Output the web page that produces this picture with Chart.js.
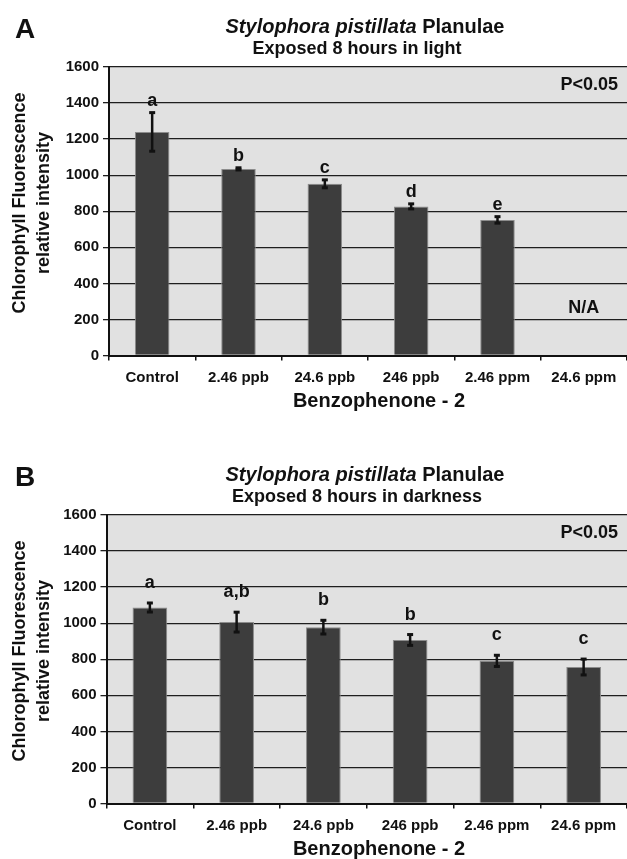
<!DOCTYPE html>
<html>
<head>
<meta charset="utf-8">
<script src="https://cdn.jsdelivr.net/npm/chart.js@4.4.1/dist/chart.umd.min.js"></script>
<style>
    html, body { margin: 0; padding: 0; background: #fff; overflow: hidden; }
    .panel { position: absolute; left: 0; width: 627px; height: 448px; }
    #panelA { top: 0; }
    #panelB { top: 448px; }
</style>
</head>
<body>
<div class="panel" id="panelA"><canvas id="chartA"></canvas></div>
<div class="panel" id="panelB"><canvas id="chartB"></canvas></div>
<script>
// Data
const categories = ['Control', '2.46 ppb', '24.6 ppb', '246 ppb', '2.46 ppm', '24.6 ppm'];
const yTicks = [0, 200, 400, 600, 800, 1000, 1200, 1400, 1600];

const lightMeans = [1240, 1035, 952, 827, 752, null];
const lightErrors = [107, 6, 22, 14, 18, null];
const lightLetters = ['a', 'b', 'c', 'd', 'e', ''];

const darkMeans = [1087, 1006, 978, 907, 791, 757];
const darkErrors = [25, 55, 38, 30, 31, 44];
const darkLetters = ['a', 'a,b', 'b', 'b', 'c', 'c'];

const FONT = '"Liberation Sans", Arial, Helvetica, sans-serif';

// background, error bars, letters and all the free text
const panelDecor = {
    id: 'panelDecor',
    beforeDraw(chart) {
        const a = chart.chartArea;
        const ctx = chart.ctx;
        ctx.save();
        ctx.fillStyle = '#e1e1e1';
        ctx.fillRect(a.left, a.top, a.right - a.left, a.bottom - a.top);
        ctx.restore();
    },
    afterDatasetsDraw(chart, args, opts) {
        const ctx = chart.ctx;
        const y = chart.scales.y;
        const meta = chart.getDatasetMeta(0);
        ctx.save();
        ctx.fillStyle = '#111';
        ctx.strokeStyle = '#111';
        meta.data.forEach((bar, i) => {
            const m = opts.means[i];
            const e = opts.errors[i];
            if (m == null) return;
            const yHi = y.getPixelForValue(m + e);
            const yLo = y.getPixelForValue(m - e);
            ctx.lineWidth = 2.5;
            ctx.beginPath();
            ctx.moveTo(bar.x, yHi);
            ctx.lineTo(bar.x, yLo);
            ctx.stroke();
            ctx.fillRect(bar.x - 3, yHi - 1.5, 6, 3);
            ctx.fillRect(bar.x - 3, yLo - 1.5, 6, 3);

            ctx.font = 'bold 18px ' + FONT;
            ctx.textAlign = 'center';
            ctx.textBaseline = 'middle';
            ctx.fillText(opts.letters[i], bar.x, yHi - opts.letterGap);
        });
        ctx.restore();
    },
    afterDraw(chart, args, opts) {
        const ctx = chart.ctx;
        const a = chart.chartArea;
        ctx.save();
        ctx.fillStyle = '#111';

        // panel letter
        ctx.font = 'bold 28px ' + FONT;
        ctx.textAlign = 'left';
        ctx.textBaseline = 'alphabetic';
        ctx.fillText(opts.panel, 15, 38);

        // title, species name in italics
        const part1 = 'Stylophora pistillata';
        const part2 = ' Planulae';
        ctx.font = 'italic bold 20px ' + FONT;
        const w1 = ctx.measureText(part1).width;
        ctx.font = 'bold 20px ' + FONT;
        const w2 = ctx.measureText(part2).width;
        let tx = 365 - (w1 + w2) / 2;
        ctx.font = 'italic bold 20px ' + FONT;
        ctx.fillText(part1, tx, 33);
        ctx.font = 'bold 20px ' + FONT;
        ctx.fillText(part2, tx + w1, 33);

        ctx.textAlign = 'center';
        ctx.font = 'bold 18px ' + FONT;
        ctx.fillText(opts.subtitle, 357, 53.5);

        // y axis title
        ctx.save();
        ctx.translate(0, 203);
        ctx.rotate(-Math.PI / 2);
        ctx.font = 'bold 18px ' + FONT;
        ctx.textBaseline = 'middle';
        ctx.fillText('Chlorophyll Fluorescence', 0, 20);
        ctx.fillText('relative intensity', 0, 44);
        ctx.restore();

        // x axis title
        ctx.font = 'bold 20px ' + FONT;
        ctx.textBaseline = 'middle';
        ctx.fillText('Benzophenone - 2', 379, 401);

        // significance note
        ctx.font = 'bold 18px ' + FONT;
        ctx.textAlign = 'right';
        ctx.fillText('P<0.05', a.right - 9, a.top + 18.5);

        if (opts.naIndex != null) {
            const xs = chart.scales.x;
            ctx.textAlign = 'center';
            ctx.fillText('N/A', xs.getPixelForValue(opts.naIndex), chart.scales.y.getPixelForValue(265));
        }
        ctx.restore();
    }
};

function makeChart(canvasId, means, errors, letters, decor, axisWidth) {
    const ctx = document.getElementById(canvasId).getContext('2d');
    return new Chart(ctx, {
        type: 'bar',
        data: {
            labels: categories,
            datasets: [{
                data: means,
                backgroundColor: '#3d3d3d',
                borderColor: '#8c8c8c',
                borderWidth: 1,
                barPercentage: 0.4,
                categoryPercentage: 1.0
            }]
        },
        options: {
            responsive: true,
            maintainAspectRatio: false,
            animation: false,
            layout: {
                padding: { top: 67, left: 0, right: 0, bottom: 0 }
            },
            scales: {
                y: {
                    min: 0,
                    max: 1600,
                    afterBuildTicks: scale => {
                        scale.ticks = yTicks.map(v => ({ value: v }));
                    },
                    afterFit: scale => {
                        scale.width = axisWidth;
                    },
                    ticks: {
                        color: '#111',
                        padding: 4,
                        callback: v => String(v),
                        font: { family: FONT, size: 15, weight: 'bold' }
                    },
                    grid: {
                        color: '#1e1e1e',
                        lineWidth: 1.3,
                        tickLength: 6
                    },
                    border: { color: '#111', width: 2 }
                },
                x: {
                    afterFit: scale => {
                        scale.height = 92.5;
                    },
                    ticks: {
                        color: '#111',
                        padding: 8,
                        maxRotation: 0,
                        autoSkip: false,
                        font: { family: FONT, size: 15, weight: 'bold' }
                    },
                    grid: {
                        display: true,
                        drawOnChartArea: false,
                        drawTicks: true,
                        tickLength: 5,
                        color: '#111',
                        lineWidth: 1.5
                    },
                    border: { color: '#111', width: 2 }
                }
            },
            plugins: {
                legend: { display: false },
                tooltip: { enabled: false },
                title: { display: false },
                panelDecor: decor
            }
        },
        plugins: [panelDecor]
    });
}

makeChart('chartA', lightMeans, lightErrors, lightLetters, {
    panel: 'A',
    subtitle: 'Exposed 8 hours in light',
    means: lightMeans,
    errors: lightErrors,
    letters: lightLetters,
    letterGap: 12,
    naIndex: 5
}, 109);

makeChart('chartB', darkMeans, darkErrors, darkLetters, {
    panel: 'B',
    subtitle: 'Exposed 8 hours in darkness',
    means: darkMeans,
    errors: darkErrors,
    letters: darkLetters,
    letterGap: 20,
    naIndex: null
}, 106.5);
</script>
</body>
</html>
